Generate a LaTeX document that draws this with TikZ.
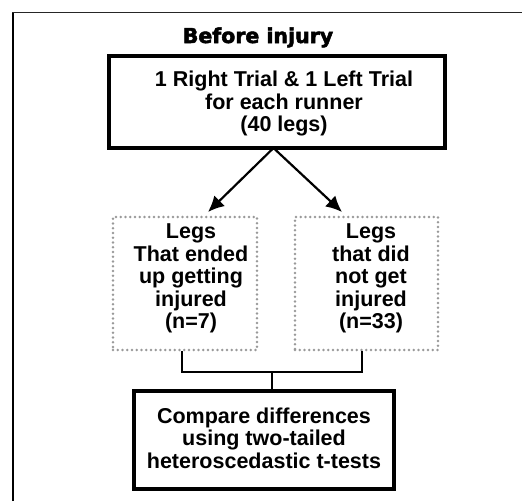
\documentclass[tikz,border=0pt]{standalone}
\usepackage{fontspec}
\setmainfont{Liberation Sans}
\newfontfamily\titlefont{DejaVu Sans}[BoldFeatures={FakeBold=2.5}]
\usetikzlibrary{arrows.meta,calc}
\begin{document}
\begin{tikzpicture}[x=1pt,y=-1pt,
  txt/.style={font=\fontsize{21.5}{22.5}\selectfont\bfseries, align=center, inner sep=0pt},
  dotbox/.style={draw=black!40, line width=2.8pt, line cap=round, dash pattern=on 0pt off 4.75pt, inner sep=0pt},
  solidbox/.style={draw, line width=3.8pt, inner sep=0pt},
  conn/.style={line width=2pt},
  arr/.style={line width=2.2pt, -{Latex[length=16pt,width=15pt]}}
]
\useasboundingbox (0,0) rectangle (522,501);
\fill[white] (0,0) rectangle (522,501);
% outer frame
\draw[line width=2pt] (13,501) -- (13,12.5);
\draw[line width=1.5pt, black!85] (12,12.5) -- (522,12.5);
% title
\node[anchor=base, inner sep=0pt, font=\titlefont\bfseries\fontsize{20.5}{22}\selectfont] (title) at (258,43) {Before injury};
% top box
\node[solidbox, minimum width=336pt, minimum height=92pt] (top) at (277,102) {};
\node[txt] (toptext) at (284,103.5) {1 Right Trial \& 1 Left Trial\\for each runner\\(40 legs)};
% dotted boxes
\node[dotbox, minimum width=144pt, minimum height=133pt] (L) at (185,283.5) {};
\node[txt] (Ltext) at (191,278.5) {Legs\\That ended\\up getting\\injured\\(n=7)};
\node[dotbox, minimum width=143pt, minimum height=133pt] (R) at (366.5,283.5) {};
\node[txt] (Rtext) at (371,278.5) {Legs\\that did\\not get\\injured\\(n=33)};
% bottom box
\node[solidbox, minimum width=260pt, minimum height=98pt] (B) at (264,440) {};
\node[txt] (Btext) at (264,438) {Compare differences\\using two-tailed\\heteroscedastic t-tests};
% arrows
\coordinate (S) at (273.5,148);
\coordinate (TL) at (208,212);
\coordinate (TR) at (342,212);
\draw[arr] (S) -- (TL);
\draw[arr] (S) -- (TR);
% connector
\coordinate (J) at (272,372);
\draw[conn] ([xshift=-3pt]L.south) -- ([xshift=-3pt]L.south |- J) -- ([xshift=-4.5pt]R.south |- J) -- ([xshift=-4.5pt]R.south);
\draw[conn] (J) -- (J |- B.north);
\end{tikzpicture}
\end{document}
